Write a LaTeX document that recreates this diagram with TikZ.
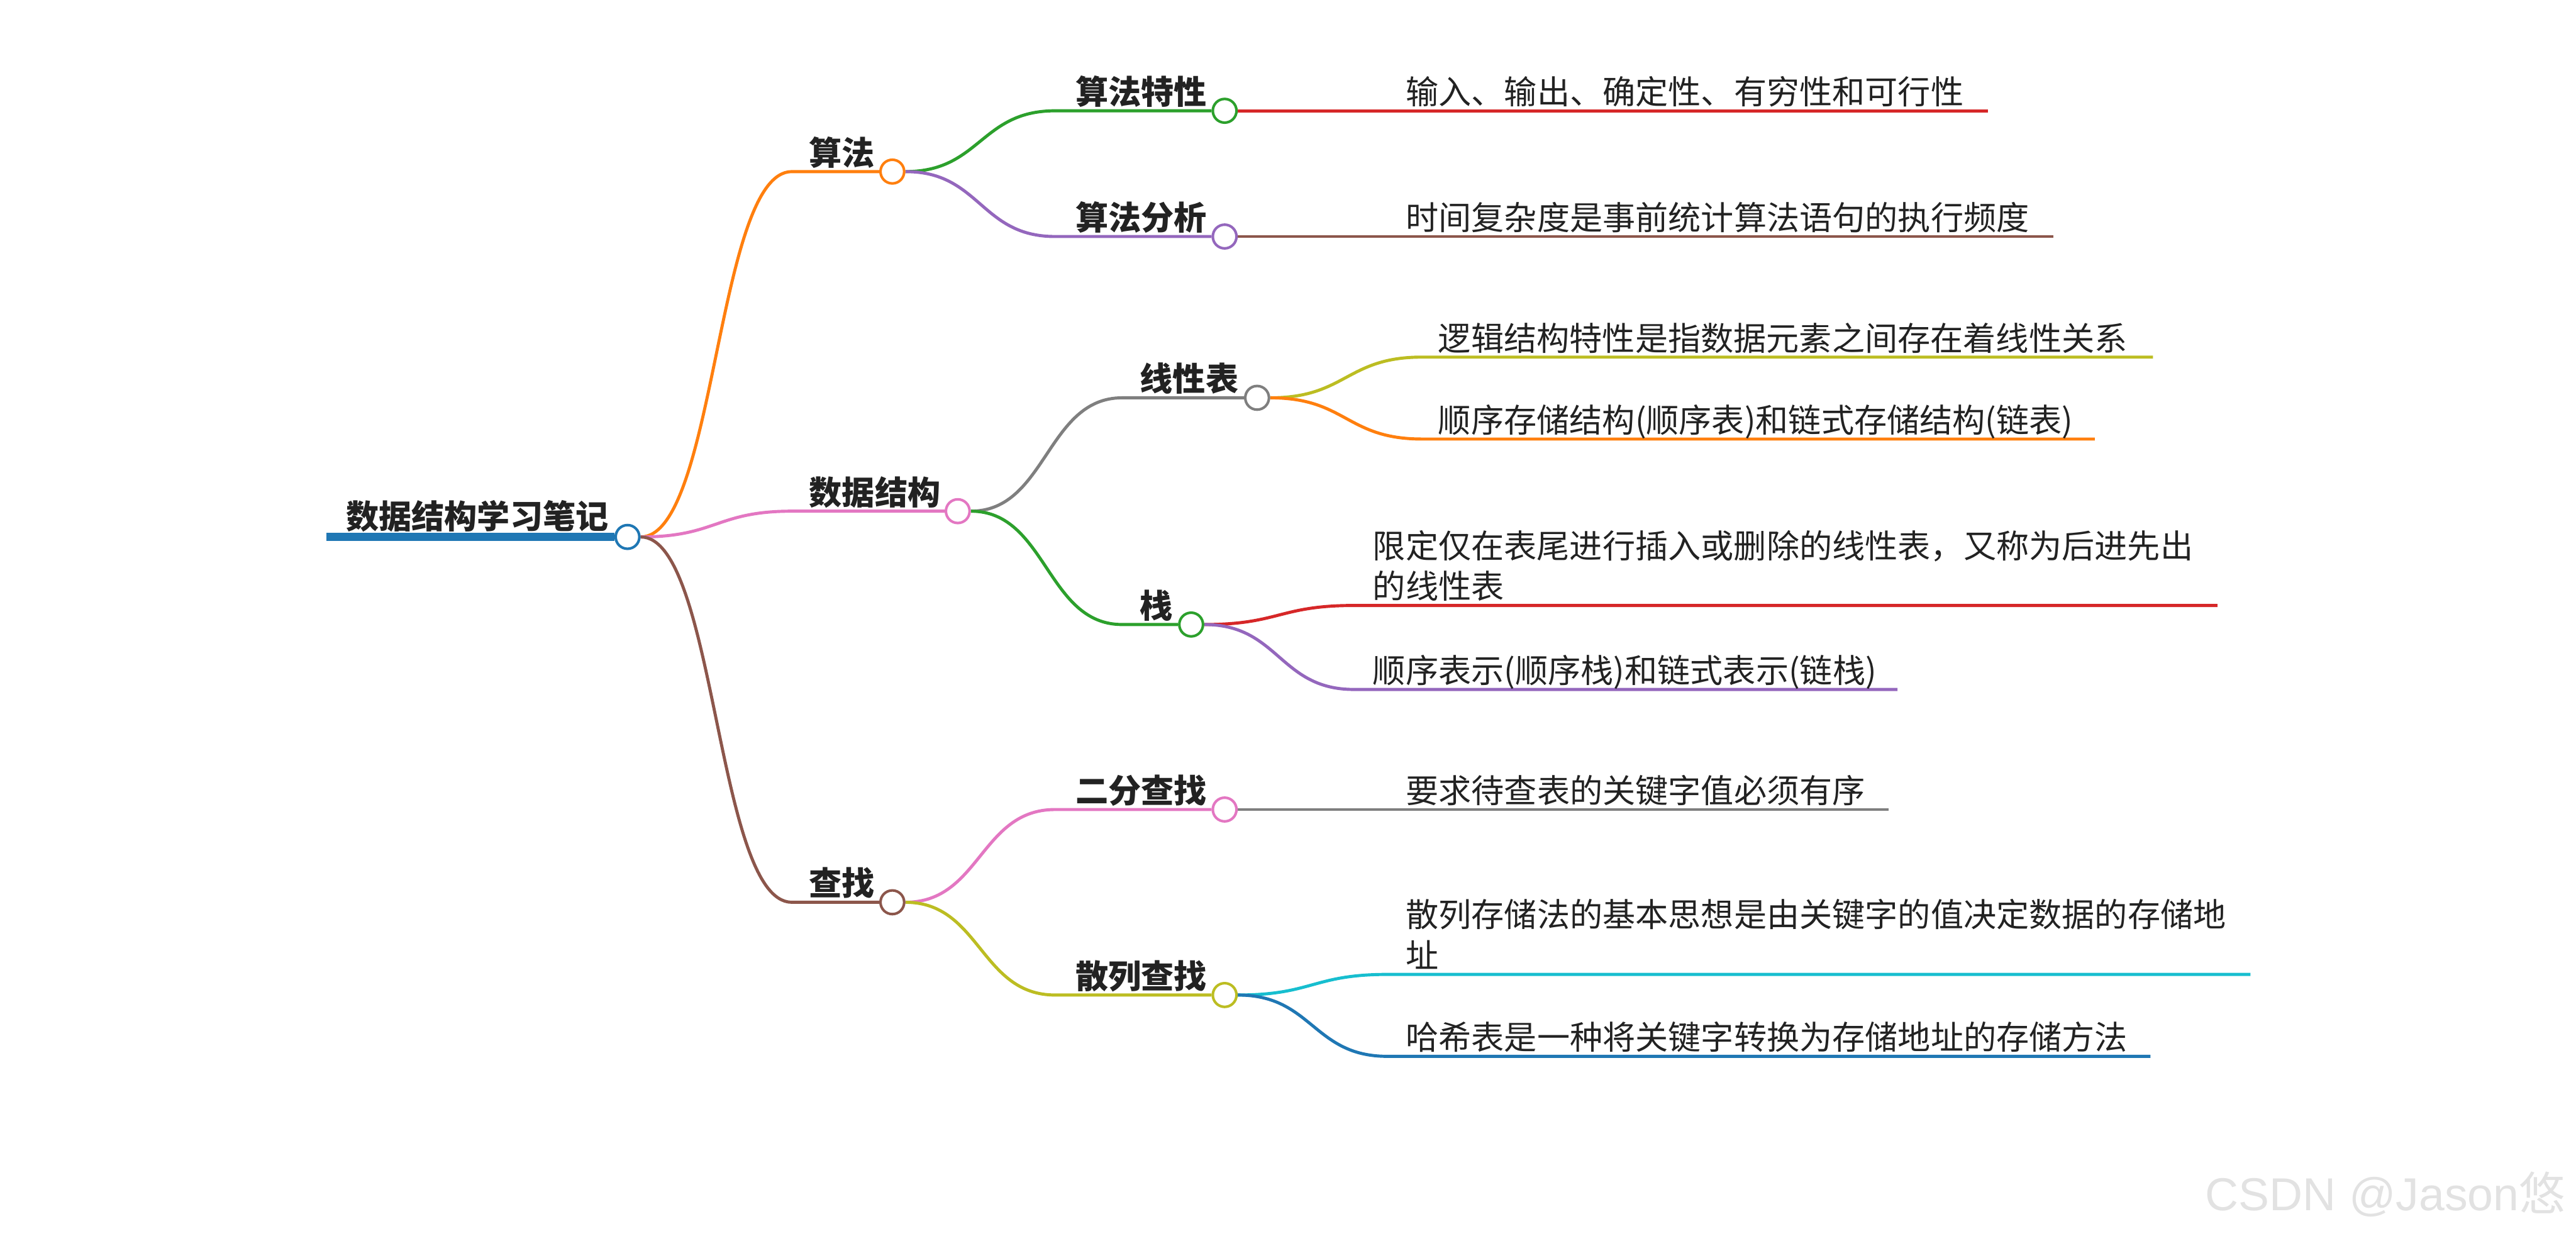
\documentclass[tikz,border=0pt]{standalone}
\usepackage{fontspec}
\setmainfont{Noto Sans CJK SC}
\newfontfamily\wmfont{Liberation Sans}
\usetikzlibrary{calc,backgrounds}
\definecolor{mmblue}{HTML}{1F77B4}
\definecolor{mmorange}{HTML}{FF7F0E}
\definecolor{mmgreen}{HTML}{2CA02C}
\definecolor{mmred}{HTML}{D62728}
\definecolor{mmpurple}{HTML}{9467BD}
\definecolor{mmbrown}{HTML}{8C564B}
\definecolor{mmpink}{HTML}{E377C2}
\definecolor{mmgray}{HTML}{7F7F7F}
\definecolor{mmolive}{HTML}{BCBD22}
\definecolor{mmcyan}{HTML}{17BECF}
\definecolor{ink}{HTML}{222222}
\definecolor{wm}{HTML}{E2E2E2}
\tikzset{
  knob/.style={circle, draw=#1, fill=white, line width=0.05cm, minimum size=0.46cm, inner sep=0pt},
  lbl/.style={anchor=base west, inner sep=0pt, text=ink, font=\fontsize{18.12pt}{22.48pt}\selectfont\bfseries},
  leaf/.style={anchor=base west, inner sep=0pt, text=ink, font=\fontsize{18.12pt}{22.48pt}\selectfont},
  leaftwo/.style={anchor=base west, inner sep=0pt, text=ink, font=\fontsize{18.12pt}{22.48pt}\selectfont},
  mmline/.style={line width=0.06cm, draw=#1},
}
\newcommand\mmlink[4]{%
  \draw[mmline=#1] let \p1=(#2), \p2=(#3) in (\p1) .. controls ({0.5*\x1+0.5*\x2},\y1) and ({0.5*\x1+0.5*\x2},\y2) .. (\p2) -- (#4);}
\newcommand\twolines[2]{\begin{tabular}[b]{@{}l@{}}#1\\#2\end{tabular}}
\begin{document}
\begin{tikzpicture}
\useasboundingbox (0,0) rectangle (50,-23.98);

% root
\coordinate (rs) at (6.34,-10.42);
\node[knob=mmblue] (root) at (12.18,-10.42) {};
\node[lbl] (rootl) at (6.71,-10.26) {数据结构学习笔记};

% level 1
\node[knob=mmorange] (sf) at (17.32,-3.33) {};
\coordinate (sfs) at (15.37,-3.33);
\node[lbl] (sfl) at (15.70,-3.20) {算法};

\node[knob=mmpink] (sj) at (18.59,-9.92) {};
\coordinate (sjs) at (15.37,-9.92);
\node[lbl] (sjl) at (15.70,-9.79) {数据结构};

\node[knob=mmbrown] (cz) at (17.32,-17.51) {};
\coordinate (czs) at (15.37,-17.51);
\node[lbl] (czl) at (15.70,-17.38) {查找};

% level 2
\node[knob=mmgreen] (tx) at (23.77,-2.15) {};
\coordinate (txs) at (20.48,-2.15);
\node[lbl] (txl) at (20.87,-2.02) {算法特性};

\node[knob=mmpurple] (fx) at (23.77,-4.59) {};
\coordinate (fxs) at (20.48,-4.59);
\node[lbl] (fxl) at (20.87,-4.46) {算法分析};

\node[knob=mmgray] (xb) at (24.40,-7.72) {};
\coordinate (xbs) at (21.78,-7.72);
\node[lbl] (xbl) at (22.12,-7.59) {线性表};

\node[knob=mmgreen] (zh) at (23.12,-12.12) {};
\coordinate (zhs) at (21.78,-12.12);
\node[lbl] (zhl) at (22.12,-11.99) {栈};

\node[knob=mmpink] (ef) at (23.77,-15.71) {};
\coordinate (efs) at (20.48,-15.71);
\node[lbl] (efl) at (20.87,-15.58) {二分查找};

\node[knob=mmolive] (sl) at (23.77,-19.31) {};
\coordinate (sls) at (20.48,-19.31);
\node[lbl] (sll) at (20.87,-19.18) {散列查找};

% leaves
\coordinate (t1s) at (26.93,-2.15); \coordinate (t1e) at (38.58,-2.15);
\node[leaf] (t1) at (27.28,-2.02) {输入、输出、确定性、有穷性和可行性};

\coordinate (f1s) at (26.93,-4.59); \coordinate (f1e) at (39.85,-4.59);
\node[leaf] (f1) at (27.28,-4.46) {时间复杂度是事前统计算法语句的执行频度};

\coordinate (x1s) at (27.60,-6.93); \coordinate (x1e) at (41.79,-6.93);
\node[leaf] (x1) at (27.91,-6.80) {逻辑结构特性是指数据元素之间存在着线性关系};

\coordinate (x2s) at (27.60,-8.52); \coordinate (x2e) at (40.66,-8.52);
\node[leaf] (x2) at (27.91,-8.39) {顺序存储结构(顺序表)和链式存储结构(链表)};

\coordinate (z1s) at (26.28,-11.75); \coordinate (z1e) at (43.04,-11.75);
\node[leaftwo] (z1) at (26.64,-11.62) {\twolines{限定仅在表尾进行插入或删除的线性表，又称为后进先出}{的线性表}};

\coordinate (z2s) at (26.28,-13.38); \coordinate (z2e) at (36.83,-13.38);
\node[leaf] (z2) at (26.64,-13.25) {顺序表示(顺序栈)和链式表示(链栈)};

\coordinate (e1s) at (26.93,-15.71); \coordinate (e1e) at (36.66,-15.71);
\node[leaf] (e1) at (27.28,-15.58) {要求待查表的关键字值必须有序};

\coordinate (s1s) at (26.93,-18.91); \coordinate (s1e) at (43.68,-18.91);
\node[leaftwo] (s1) at (27.28,-18.78) {\twolines{散列存储法的基本思想是由关键字的值决定数据的存储地}{址}};

\coordinate (s2s) at (26.93,-20.50); \coordinate (s2e) at (41.74,-20.50);
\node[leaf] (s2) at (27.28,-20.37) {哈希表是一种将关键字转换为存储地址的存储方法};

% watermark
\node[anchor=base west, inner sep=0pt, text=wm, font=\fontsize{25.5pt}{30pt}\selectfont] (wmk) at (42.80,-23.49) {{\wmfont CSDN @Jason}悠};

\begin{pgfonlayer}{background}
  \draw[line width=0.16cm, draw=mmblue] (rs) -- (root.west);
  \mmlink{mmorange}{root.east}{sfs}{sf.west}
  \mmlink{mmpink}{root.east}{sjs}{sj.west}
  \mmlink{mmbrown}{root.east}{czs}{cz.west}
  \mmlink{mmgreen}{sf.east}{txs}{tx.west}
  \mmlink{mmpurple}{sf.east}{fxs}{fx.west}
  \mmlink{mmgray}{sj.east}{xbs}{xb.west}
  \mmlink{mmgreen}{sj.east}{zhs}{zh.west}
  \mmlink{mmpink}{cz.east}{efs}{ef.west}
  \mmlink{mmolive}{cz.east}{sls}{sl.west}
  \mmlink{mmred}{tx.east}{t1s}{t1e}
  \mmlink{mmbrown}{fx.east}{f1s}{f1e}
  \mmlink{mmolive}{xb.east}{x1s}{x1e}
  \mmlink{mmorange}{xb.east}{x2s}{x2e}
  \mmlink{mmred}{zh.east}{z1s}{z1e}
  \mmlink{mmpurple}{zh.east}{z2s}{z2e}
  \mmlink{mmgray}{ef.east}{e1s}{e1e}
  \mmlink{mmcyan}{sl.east}{s1s}{s1e}
  \mmlink{mmblue}{sl.east}{s2s}{s2e}
\end{pgfonlayer}
\end{tikzpicture}
\end{document}
